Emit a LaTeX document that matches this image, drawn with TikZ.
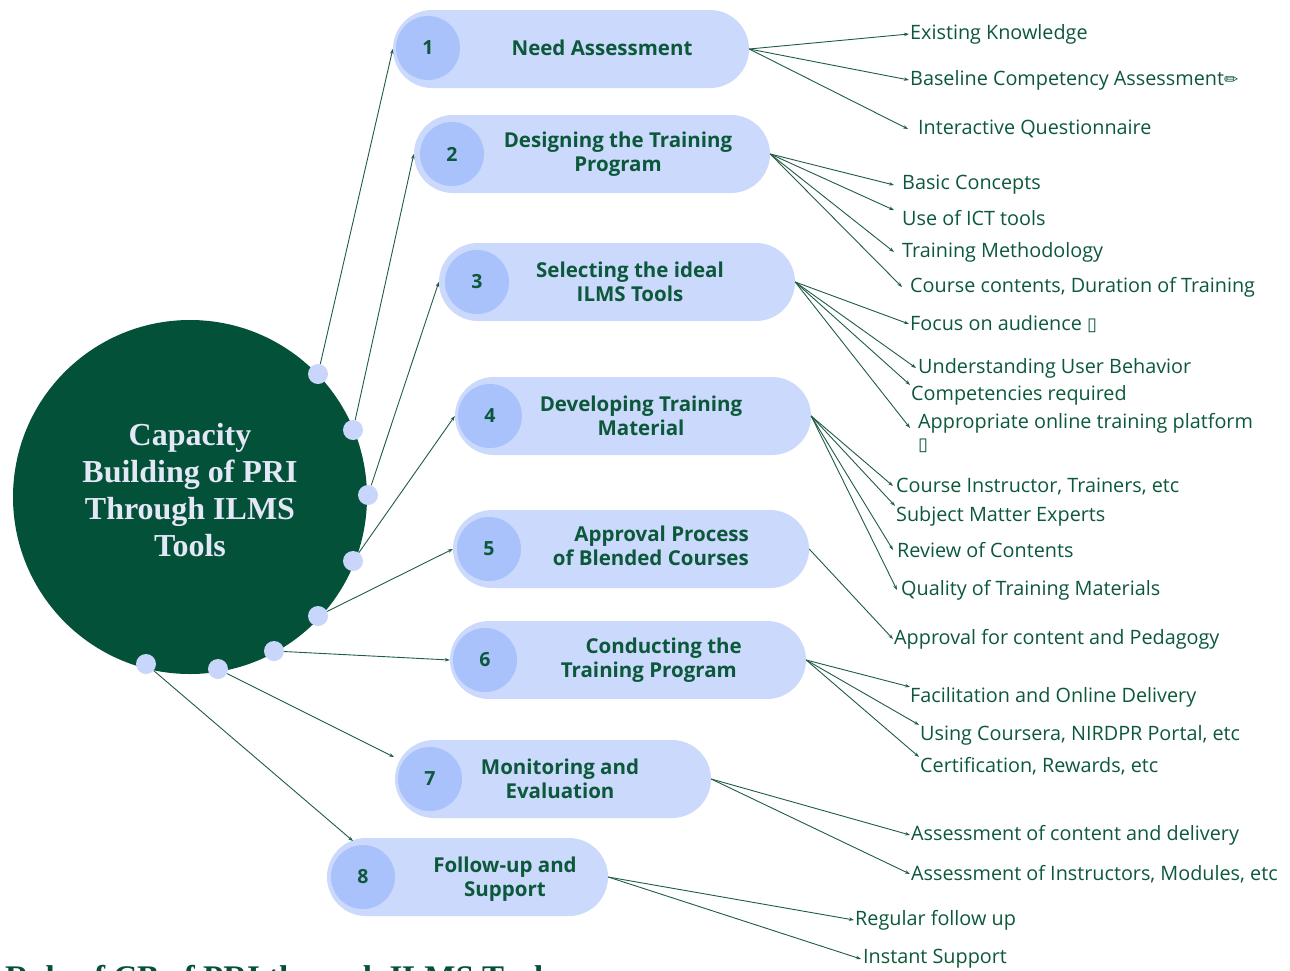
\documentclass[tikz,border=0pt]{standalone}
\usepackage{fontspec}
\setmainfont{Open Sans}
\newfontfamily\headserif{Liberation Serif}
\newfontfamily\symfont{DejaVu Sans}
\usetikzlibrary{arrows.meta,calc}

\definecolor{hubgreen}{RGB}{3,81,56}
\definecolor{txtgreen}{RGB}{12,88,58}
\definecolor{linegreen}{RGB}{30,92,68}
\definecolor{pillblue}{RGB}{203,217,252}
\definecolor{numblue}{RGB}{170,194,251}
\definecolor{dotblue}{RGB}{200,214,251}
\definecolor{hubtext}{RGB}{228,231,246}

\tikzset{
  pill/.style={fill=pillblue, rounded corners=39pt, minimum width=#1,
    minimum height=78pt, inner sep=0pt},
  numdisc/.style={circle, fill=numblue, minimum size=64pt, inner sep=0pt,
    text=txtgreen, font=\bfseries\fontsize{19.5}{19.5}\selectfont},
  ptext/.style={text=txtgreen, align=center, inner sep=0pt,
    font=\bfseries\fontsize{20.5}{24}\selectfont},
  sub/.style={text=txtgreen, anchor=west, inner sep=0pt, align=left,
    font=\fontsize{19.8}{22}\selectfont},
  hubdot/.style={circle, fill=dotblue, minimum size=20pt, inner sep=0pt},
  link/.style={draw=linegreen, line width=0.9pt,
    -{Stealth[length=5pt,width=3.5pt]}},
  glyph/.style={font=\symfont\fontsize{#1}{#1}\selectfont},
}
\newcommand{\tofubox}{{\symfont\fontsize{18}{18}\selectfont ▯}}

\begin{document}
\begin{tikzpicture}[x=1pt,y=-1pt]
\useasboundingbox (0,0) rectangle (1290,970);
\clip (0,0) rectangle (1290,970);

% central hub
\node[circle, fill=hubgreen, minimum size=354pt, inner sep=0pt] (hub) at (190,497) {};
\node[text=hubtext, align=center, inner sep=0pt,
      font=\headserif\bfseries\fontsize{32}{37}\selectfont] (hubtitle) at (190,490)
  {Capacity\\Building of PRI\\Through ILMS\\Tools};

% dots on the hub rim
\node[hubdot] (d1) at (318,374) {};
\node[hubdot] (d2) at (353,430) {};
\node[hubdot] (d3) at (368,495) {};
\node[hubdot] (d4) at (353,561) {};
\node[hubdot] (d5) at (318,616) {};
\node[hubdot] (d6) at (274,651) {};
\node[hubdot] (d7) at (218,669) {};
\node[hubdot] (d8) at (146,664) {};

% step pills
\node[pill=356pt] (p1) at (571,49) {};
\node[pill=356pt] (p2) at (592,154) {};
\node[pill=356pt] (p3) at (617,282) {};
\node[pill=356pt] (p4) at (633,416) {};
\node[pill=356pt] (p5) at (631,549) {};
\node[pill=356pt] (p6) at (628,660) {};
\node[pill=316pt] (p7) at (553,779) {};
\node[pill=281pt] (p8) at (467.5,877) {};

\node[numdisc] (n1) at (428,48) {1};
\node[numdisc] (n2) at (452,154) {2};
\node[numdisc] (n3) at (477,282) {3};
\node[numdisc] (n4) at (490,416) {4};
\node[numdisc] (n5) at (489,549) {5};
\node[numdisc] (n6) at (485,660) {6};
\node[numdisc] (n7) at (430,779) {7};
\node[numdisc] (n8) at (363,877) {8};

\node[ptext] (t1) at (602,48) {Need Assessment};
\node[ptext] (t2) at (618,154) {Designing the Training\\Program};
\node[ptext] (t3) at (630,282) {Selecting the ideal\\ILMS Tools};
\node[ptext] (t4) at (641,416) {Developing Training\\Material};
\node[ptext, align=right, anchor=east] (t5) at (749,546) {Approval Process\\of Blended Courses};
\node[ptext, align=right, anchor=east] (t6) at (742,660) {Conducting the\\Training Program\hspace*{5pt}};
\node[ptext] (t7) at (560,779) {Monitoring and\\Evaluation};
\node[ptext] (t8) at (505,879) {Follow-up and\\Support};

% connectors hub -> pills
\coordinate (e7) at (394,757);
\coordinate (e8) at (353,841);
\draw[link] (d1) -- (p1.west);
\draw[link] (d2) -- (p2.west);
\draw[link] (d3) -- (p3.west);
\draw[link] (d4) -- (p4.west);
\draw[link] (d5) -- (p5.west);
\draw[link] (d6) -- (p6.west);
\draw[link] (d7) -- (e7);
\draw[link] (d8) -- (e8);

% sub-items
\node[sub] (s11) at (909,34) {\hspace*{1pt}Existing Knowledge};
\node[sub] (s12) at (909,80) {\hspace*{1pt}Baseline Competency Assessment{\symfont\fontsize{17}{17}\selectfont ✏}};
\node[sub] (s13) at (908,129) {\hspace*{10pt}Interactive Questionnaire};

\node[sub] (s21) at (894,185) {\hspace*{8pt}Basic Concepts};
\node[sub] (s22) at (894,218) {\hspace*{8pt}Use of ICT tools};
\node[sub] (s23) at (894,252) {\hspace*{8pt}Training Methodology};
\node[sub] (s24) at (902,287) {\hspace*{8pt}Course contents, Duration of Training};

\node[sub] (s31) at (909,324) {\hspace*{1pt}Focus on audience \tofubox};
\node[sub] (s32) at (916,368) {\hspace*{2pt}Understanding User Behavior};
\node[sub] (s33) at (910,395) {\hspace*{1pt}Competencies required};
\node[sub, anchor=north west] (s34) at (910,413) {\hspace*{8pt}Appropriate online training platform\\\hspace*{8pt}\tofubox};

\node[sub] (s41) at (893,486) {\hspace*{3pt}Course Instructor, Trainers, etc};
\node[sub] (s42) at (895,516) {\hspace*{1pt}Subject Matter Experts};
\node[sub] (s43) at (893,550) {\hspace*{4pt}Review of Contents};
\node[sub] (s44) at (897,590) {\hspace*{4pt}Quality of Training Materials};

\node[sub] (s51) at (893,639) {\hspace*{1pt}Approval for content and Pedagogy};

\node[sub] (s61) at (910,697) {Facilitation and Online Delivery};
\node[sub] (s62) at (919,735) {\hspace*{1pt}Using Coursera, NIRDPR Portal, etc};
\node[sub] (s63) at (919,766) {\hspace*{1pt}Certification, Rewards, etc};

\node[sub] (s71) at (910,835) {\hspace*{1pt}Assessment of content and delivery};
\node[sub] (s72) at (910,874) {\hspace*{1pt}Assessment of Instructors, Modules, etc};

\node[sub] (s81) at (854,920) {\hspace*{1pt}Regular follow up};
\node[sub] (s82) at (861,959) {\hspace*{2pt}Instant Support};

% connectors pills -> sub-items
\draw[link] (p1.east) -- (s11.west);
\draw[link] (p1.east) -- (s12.west);
\draw[link] (p1.east) -- (s13.west);
\draw[link] (p2.east) -- (s21.west);
\draw[link] (p2.east) -- (s22.north west);
\draw[link] (p2.east) -- (s23.west);
\draw[link] (p2.east) -- (s24.west);
\draw[link] (p3.east) -- (s31.west);
\draw[link] (p3.east) -- (s32.west);
\draw[link] (p3.east) -- (s33.north west);
\draw[link] (p3.east) -- ($(s34.north west)+(0,15)$);
\draw[link] (p4.east) -- (s41.west);
\draw[link] (p4.east) -- (s42.north west);
\draw[link] (p4.east) -- (s43.west);
\draw[link] (p4.east) -- (s44.west);
\draw[link] (p5.east) -- (s51.west);
\draw[link] (p6.east) -- (s61.north west);
\draw[link] (p6.east) -- (s62.north west);
\draw[link] (p6.east) -- (s63.north west);
\draw[link] (p7.east) -- (s71.west);
\draw[link] (p7.east) -- (s72.west);
\draw[link] (p8.east) -- (s81.west);
\draw[link] (p8.east) -- (s82.west);

% caption running off the lower edge
\node[anchor=base west, inner sep=0pt, text=hubgreen,
      font=\headserif\bfseries\fontsize{33}{33}\selectfont] (caption) at (5,988)
  {Role of CB of PRI through ILMS Tools};
\end{tikzpicture}
\end{document}
